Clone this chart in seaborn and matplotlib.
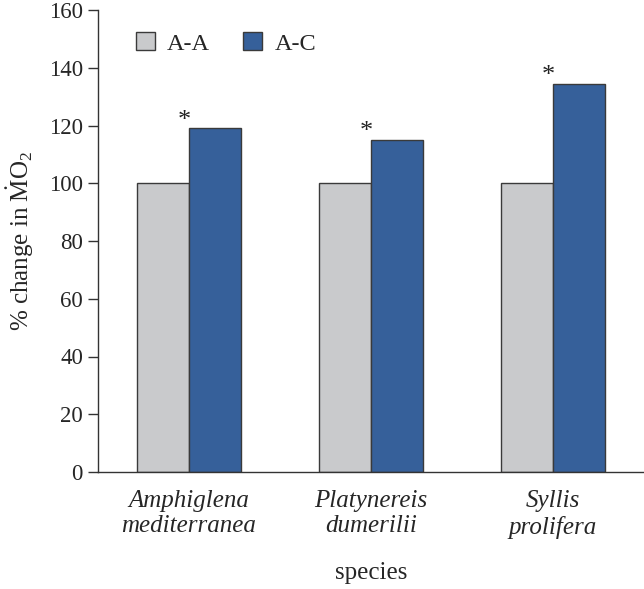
import matplotlib
matplotlib.use("Agg")
import matplotlib.pyplot as plt
import seaborn as sns
import pandas as pd

species = ["Amphiglena\nmediterranea", "Platynereis\ndumerilii", "Syllis\nprolifera"]
groups = ["A-A", "A-C"]
aa_values = [100, 100, 100]
ac_values = [119, 115, 134.5]
significant = [True, True, True]

df = pd.DataFrame({
    "species": species * 2,
    "group": [groups[0]] * 3 + [groups[1]] * 3,
    "value": aa_values + ac_values,
})

sns.set_theme(style="ticks")
plt.rcParams["font.family"] = ["Liberation Serif", "DejaVu Serif"]
plt.rcParams["mathtext.fontset"] = "custom"
plt.rcParams["mathtext.rm"] = "Liberation Serif"
plt.rcParams["mathtext.it"] = "Liberation Serif:italic"

W, H = 644, 589
fig = plt.figure(figsize=(W / 100, H / 100), dpi=100)
ax = fig.add_axes([98 / W, (H - 472) / H, (W - 98) / W, (472 - 10) / H])

palette = {"A-A": "#c9cacc", "A-C": "#36609a"}
sns.barplot(data=df, x="species", y="value", hue="group", palette=palette,
            width=0.573, edgecolor="#3a3a3a", linewidth=1.0, saturation=1,
            ax=ax, legend=True)

ax.set_ylim(0, 160)
ax.set_yticks(range(0, 161, 20))
ax.set_xlim(-0.5, 2.5)
ax.tick_params(axis="y", labelsize=16.5, length=7.2, width=1, color="#333333",
               direction="out", pad=3.6)
ax.tick_params(axis="x", length=0, labelsize=18, pad=13)
for lbl in ax.get_xticklabels():
    lbl.set_fontstyle("italic")
    lbl.set_linespacing(1.2)
for s in ["top", "right"]:
    ax.spines[s].set_visible(False)
for s in ["left", "bottom"]:
    ax.spines[s].set_color("#333333")
    ax.spines[s].set_linewidth(1)

ax.set_xlabel("species", fontsize=18, labelpad=17)
ax.set_ylabel(r"% change in $\dot{\mathrm{M}}\mathrm{O}_2$", fontsize=18)
ax.yaxis.set_label_coords((36 - 98) / (W - 98), 0.5)

for i, (v, sig) in enumerate(zip(ac_values, significant)):
    if sig:
        ax.text(i - 0.025, v + 0.5, "*", ha="center", va="baseline",
                fontsize=19, color="#222222")

leg = ax.legend(loc="upper left", bbox_to_anchor=(136 / W, 1 - 32 / H),
                bbox_transform=fig.transFigure, ncol=2, frameon=False,
                fontsize=17.5, handlelength=0.78, handleheight=0.78,
                columnspacing=1.36, handletextpad=0.5, borderpad=0,
                borderaxespad=0, title=None)

fig.savefig("out.png", dpi=100)
